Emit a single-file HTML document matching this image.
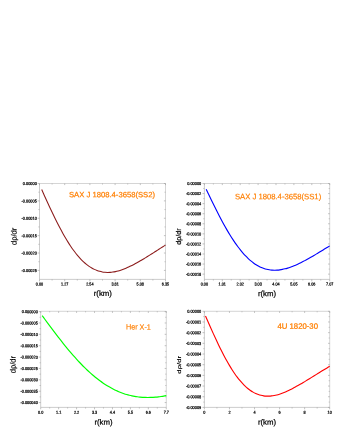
<!DOCTYPE html>
<html><head><meta charset="utf-8"><title>plot</title>
<style>
html,body{margin:0;padding:0;background:#fff;}
body{width:340px;height:440px;overflow:hidden;font-family:"Liberation Sans",sans-serif;}
svg{display:block;opacity:0.999;will-change:transform;}
svg text{font-family:"Liberation Sans",sans-serif;text-rendering:geometricPrecision;}
</style></head><body>
<svg width="340" height="440" viewBox="0 0 340 440">
<rect x="0" y="0" width="340" height="440" fill="#ffffff"/>
<g>
<path d="M39.5,183.5H165.5V279.4" fill="none" stroke="#b2b2b2" stroke-width="0.55"/>
<path d="M39.5,183.5V279.4H165.5" fill="none" stroke="#a4a4a4" stroke-width="0.55"/>
<path d="M39.50,279.4v1.9M39.50,183.5v1.6M52.10,279.4v1.1M52.10,183.5v1.0M64.70,279.4v1.9M64.70,183.5v1.6M77.30,279.4v1.1M77.30,183.5v1.0M89.90,279.4v1.9M89.90,183.5v1.6M102.50,279.4v1.1M102.50,183.5v1.0M115.10,279.4v1.9M115.10,183.5v1.6M127.70,279.4v1.1M127.70,183.5v1.0M140.30,279.4v1.9M140.30,183.5v1.6M152.90,279.4v1.1M152.90,183.5v1.0M165.50,279.4v1.9M165.50,183.5v1.6M39.5,183.50h-1.9M165.5,183.50h-1.6M39.5,192.19h-1.1M165.5,192.19h-1.0M39.5,200.88h-1.9M165.5,200.88h-1.6M39.5,209.57h-1.1M165.5,209.57h-1.0M39.5,218.26h-1.9M165.5,218.26h-1.6M39.5,226.95h-1.1M165.5,226.95h-1.0M39.5,235.64h-1.9M165.5,235.64h-1.6M39.5,244.33h-1.1M165.5,244.33h-1.0M39.5,253.02h-1.9M165.5,253.02h-1.6M39.5,261.71h-1.1M165.5,261.71h-1.0M39.5,270.40h-1.9M165.5,270.40h-1.6" stroke="#999" stroke-width="0.6" fill="none"/>
<text transform="matrix(0.88 0.002 0 1 39.50 285.40)" font-size="4.3" text-anchor="middle" fill="#000" stroke="#000" stroke-width="0.24">0.00</text>
<text transform="matrix(0.88 0.002 0 1 64.70 285.40)" font-size="4.3" text-anchor="middle" fill="#000" stroke="#000" stroke-width="0.24">1.27</text>
<text transform="matrix(0.88 0.002 0 1 89.90 285.40)" font-size="4.3" text-anchor="middle" fill="#000" stroke="#000" stroke-width="0.24">2.54</text>
<text transform="matrix(0.88 0.002 0 1 115.10 285.40)" font-size="4.3" text-anchor="middle" fill="#000" stroke="#000" stroke-width="0.24">3.81</text>
<text transform="matrix(0.88 0.002 0 1 140.30 285.40)" font-size="4.3" text-anchor="middle" fill="#000" stroke="#000" stroke-width="0.24">5.08</text>
<text transform="matrix(0.88 0.002 0 1 165.50 285.40)" font-size="4.3" text-anchor="middle" fill="#000" stroke="#000" stroke-width="0.24">6.35</text>
<text transform="matrix(0.9 0.002 0 1 36.80 185.05)" font-size="4.3" text-anchor="end" fill="#000" stroke="#000" stroke-width="0.24">0.00000</text>
<text transform="matrix(0.9 0.002 0 1 36.80 202.43)" font-size="4.3" text-anchor="end" fill="#000" stroke="#000" stroke-width="0.24">-0.00005</text>
<text transform="matrix(0.9 0.002 0 1 36.80 219.81)" font-size="4.3" text-anchor="end" fill="#000" stroke="#000" stroke-width="0.24">-0.00010</text>
<text transform="matrix(0.9 0.002 0 1 36.80 237.19)" font-size="4.3" text-anchor="end" fill="#000" stroke="#000" stroke-width="0.24">-0.00015</text>
<text transform="matrix(0.9 0.002 0 1 36.80 254.57)" font-size="4.3" text-anchor="end" fill="#000" stroke="#000" stroke-width="0.24">-0.00020</text>
<text transform="matrix(0.9 0.002 0 1 36.80 271.95)" font-size="4.3" text-anchor="end" fill="#000" stroke="#000" stroke-width="0.24">-0.00025</text>
<text transform="matrix(1 0.002 0 1 69.0 197.2)" font-size="7.7" fill="#ff7f00" stroke="#ff7f00" stroke-width="0.22" textLength="86.0" lengthAdjust="spacingAndGlyphs">SAX J 1808.4-3658(SS2)</text>
<text transform="matrix(1 0.002 0 1 102.8 295.9)" font-size="7.8" text-anchor="middle" fill="#000" stroke="#000" stroke-width="0.22">r(km)</text>
<text transform="translate(16.6,236.4) rotate(-90.1) scale(1,1.0)" font-size="7.6" text-anchor="middle" fill="#000" stroke="#000" stroke-width="0.2" textLength="17.2" lengthAdjust="spacingAndGlyphs">dρ/dr</text>
<path d="M41.70,189.57C42.14,190.55 43.46,193.49 44.33,195.44C45.21,197.38 46.09,199.32 46.97,201.24C47.85,203.16 48.72,205.07 49.60,206.96C50.48,208.84 51.36,210.71 52.24,212.55C53.11,214.39 53.99,216.21 54.87,218.00C55.75,219.79 56.63,221.55 57.50,223.27C58.38,224.99 59.26,226.69 60.14,228.34C61.02,229.99 61.89,231.61 62.77,233.18C63.65,234.76 64.53,236.29 65.41,237.78C66.28,239.28 67.16,240.72 68.04,242.13C68.92,243.53 69.80,244.88 70.67,246.19C71.55,247.50 72.43,248.76 73.31,249.97C74.19,251.18 75.06,252.34 75.94,253.46C76.82,254.57 77.70,255.63 78.58,256.64C79.45,257.65 80.33,258.61 81.21,259.52C82.09,260.43 82.97,261.28 83.84,262.09C84.72,262.90 85.60,263.65 86.48,264.36C87.36,265.07 88.23,265.72 89.11,266.33C89.99,266.94 90.87,267.49 91.75,268.01C92.62,268.52 93.50,268.98 94.38,269.40C95.26,269.81 96.14,270.18 97.01,270.51C97.89,270.84 98.77,271.12 99.65,271.36C100.53,271.60 101.40,271.80 102.28,271.96C103.16,272.12 104.04,272.23 104.92,272.31C105.80,272.39 106.67,272.43 107.55,272.44C108.43,272.45 109.31,272.42 110.19,272.36C111.06,272.30 111.94,272.20 112.82,272.08C113.70,271.96 114.58,271.80 115.45,271.62C116.33,271.43 117.21,271.22 118.09,270.98C118.97,270.75 119.84,270.48 120.72,270.20C121.60,269.91 122.48,269.60 123.36,269.27C124.23,268.94 125.11,268.59 125.99,268.22C126.87,267.85 127.75,267.46 128.62,267.06C129.50,266.65 130.38,266.23 131.26,265.79C132.14,265.36 133.01,264.91 133.89,264.45C134.77,263.98 135.65,263.51 136.53,263.02C137.40,262.54 138.28,262.04 139.16,261.53C140.04,261.03 140.92,260.51 141.79,259.99C142.67,259.47 143.55,258.94 144.43,258.41C145.31,257.87 146.18,257.33 147.06,256.79C147.94,256.24 148.82,255.69 149.70,255.14C150.57,254.59 151.45,254.03 152.33,253.47C153.21,252.92 154.09,252.36 154.96,251.80C155.84,251.24 156.72,250.67 157.60,250.11C158.48,249.55 159.35,248.99 160.23,248.43C161.11,247.87 161.99,247.31 162.87,246.76C163.74,246.20 165.06,245.37 165.50,245.09" fill="none" stroke="#8b1a1a" stroke-width="1.05" stroke-linecap="butt" stroke-linejoin="round"/>
</g>
<g>
<path d="M204.4,183.5H329.7V279.4" fill="none" stroke="#b2b2b2" stroke-width="0.55"/>
<path d="M204.4,183.5V279.4H329.7" fill="none" stroke="#a4a4a4" stroke-width="0.55"/>
<path d="M204.40,279.4v1.9M204.40,183.5v1.6M213.35,279.4v1.1M213.35,183.5v1.0M222.30,279.4v1.9M222.30,183.5v1.6M231.25,279.4v1.1M231.25,183.5v1.0M240.20,279.4v1.9M240.20,183.5v1.6M249.15,279.4v1.1M249.15,183.5v1.0M258.10,279.4v1.9M258.10,183.5v1.6M267.05,279.4v1.1M267.05,183.5v1.0M276.00,279.4v1.9M276.00,183.5v1.6M284.95,279.4v1.1M284.95,183.5v1.0M293.90,279.4v1.9M293.90,183.5v1.6M302.85,279.4v1.1M302.85,183.5v1.0M311.80,279.4v1.9M311.80,183.5v1.6M320.75,279.4v1.1M320.75,183.5v1.0M329.70,279.4v1.9M329.70,183.5v1.6M204.4,183.50h-1.9M329.7,183.50h-1.6M204.4,188.53h-1.1M329.7,188.53h-1.0M204.4,193.57h-1.9M329.7,193.57h-1.6M204.4,198.60h-1.1M329.7,198.60h-1.0M204.4,203.64h-1.9M329.7,203.64h-1.6M204.4,208.67h-1.1M329.7,208.67h-1.0M204.4,213.71h-1.9M329.7,213.71h-1.6M204.4,218.75h-1.1M329.7,218.75h-1.0M204.4,223.78h-1.9M329.7,223.78h-1.6M204.4,228.81h-1.1M329.7,228.81h-1.0M204.4,233.85h-1.9M329.7,233.85h-1.6M204.4,238.88h-1.1M329.7,238.88h-1.0M204.4,243.92h-1.9M329.7,243.92h-1.6M204.4,248.96h-1.1M329.7,248.96h-1.0M204.4,253.99h-1.9M329.7,253.99h-1.6M204.4,259.02h-1.1M329.7,259.02h-1.0M204.4,264.06h-1.9M329.7,264.06h-1.6M204.4,269.10h-1.1M329.7,269.10h-1.0M204.4,274.13h-1.9M329.7,274.13h-1.6" stroke="#999" stroke-width="0.6" fill="none"/>
<text transform="matrix(0.88 0.002 0 1 204.40 285.40)" font-size="4.3" text-anchor="middle" fill="#000" stroke="#000" stroke-width="0.24">0.00</text>
<text transform="matrix(0.88 0.002 0 1 222.30 285.40)" font-size="4.3" text-anchor="middle" fill="#000" stroke="#000" stroke-width="0.24">1.01</text>
<text transform="matrix(0.88 0.002 0 1 240.20 285.40)" font-size="4.3" text-anchor="middle" fill="#000" stroke="#000" stroke-width="0.24">2.02</text>
<text transform="matrix(0.88 0.002 0 1 258.10 285.40)" font-size="4.3" text-anchor="middle" fill="#000" stroke="#000" stroke-width="0.24">3.03</text>
<text transform="matrix(0.88 0.002 0 1 276.00 285.40)" font-size="4.3" text-anchor="middle" fill="#000" stroke="#000" stroke-width="0.24">4.04</text>
<text transform="matrix(0.88 0.002 0 1 293.90 285.40)" font-size="4.3" text-anchor="middle" fill="#000" stroke="#000" stroke-width="0.24">5.05</text>
<text transform="matrix(0.88 0.002 0 1 311.80 285.40)" font-size="4.3" text-anchor="middle" fill="#000" stroke="#000" stroke-width="0.24">6.06</text>
<text transform="matrix(0.88 0.002 0 1 329.70 285.40)" font-size="4.3" text-anchor="middle" fill="#000" stroke="#000" stroke-width="0.24">7.07</text>
<text transform="matrix(0.9 0.002 0 1 201.20 185.05)" font-size="4.3" text-anchor="end" fill="#000" stroke="#000" stroke-width="0.24">0.00000</text>
<text transform="matrix(0.9 0.002 0 1 201.20 195.12)" font-size="4.3" text-anchor="end" fill="#000" stroke="#000" stroke-width="0.24">-0.00002</text>
<text transform="matrix(0.9 0.002 0 1 201.20 205.19)" font-size="4.3" text-anchor="end" fill="#000" stroke="#000" stroke-width="0.24">-0.00004</text>
<text transform="matrix(0.9 0.002 0 1 201.20 215.26)" font-size="4.3" text-anchor="end" fill="#000" stroke="#000" stroke-width="0.24">-0.00006</text>
<text transform="matrix(0.9 0.002 0 1 201.20 225.33)" font-size="4.3" text-anchor="end" fill="#000" stroke="#000" stroke-width="0.24">-0.00008</text>
<text transform="matrix(0.9 0.002 0 1 201.20 235.40)" font-size="4.3" text-anchor="end" fill="#000" stroke="#000" stroke-width="0.24">-0.00010</text>
<text transform="matrix(0.9 0.002 0 1 201.20 245.47)" font-size="4.3" text-anchor="end" fill="#000" stroke="#000" stroke-width="0.24">-0.00012</text>
<text transform="matrix(0.9 0.002 0 1 201.20 255.54)" font-size="4.3" text-anchor="end" fill="#000" stroke="#000" stroke-width="0.24">-0.00014</text>
<text transform="matrix(0.9 0.002 0 1 201.20 265.61)" font-size="4.3" text-anchor="end" fill="#000" stroke="#000" stroke-width="0.24">-0.00016</text>
<text transform="matrix(0.9 0.002 0 1 201.20 275.68)" font-size="4.3" text-anchor="end" fill="#000" stroke="#000" stroke-width="0.24">-0.00018</text>
<text transform="matrix(1 0.002 0 1 234.9 199.2)" font-size="7.9" fill="#ff7f00" stroke="#ff7f00" stroke-width="0.18" textLength="86.3" lengthAdjust="spacingAndGlyphs">SAX J 1808.4-3658(SS1)</text>
<text transform="matrix(1 0.002 0 1 267.0 296.2)" font-size="7.8" text-anchor="middle" fill="#000" stroke="#000" stroke-width="0.22">r(km)</text>
<text transform="translate(181.0,236.5) rotate(-90.1) scale(1,0.92)" font-size="7.6" text-anchor="middle" fill="#000" stroke="#000" stroke-width="0.2" textLength="16.3" lengthAdjust="spacingAndGlyphs">dρ/dr</text>
<path d="M206.20,189.32C206.64,190.24 207.95,192.98 208.83,194.80C209.70,196.62 210.58,198.43 211.46,200.23C212.33,202.03 213.21,203.82 214.08,205.59C214.96,207.35 215.83,209.11 216.71,210.84C217.59,212.57 218.46,214.28 219.34,215.97C220.21,217.65 221.09,219.31 221.97,220.94C222.84,222.57 223.72,224.18 224.59,225.75C225.47,227.32 226.35,228.86 227.22,230.36C228.10,231.86 228.97,233.33 229.85,234.76C230.72,236.19 231.60,237.58 232.48,238.93C233.35,240.28 234.23,241.60 235.10,242.86C235.98,244.13 236.86,245.36 237.73,246.54C238.61,247.72 239.48,248.86 240.36,249.96C241.24,251.05 242.11,252.10 242.99,253.10C243.86,254.11 244.74,255.07 245.61,255.98C246.49,256.89 247.37,257.76 248.24,258.58C249.12,259.40 249.99,260.17 250.87,260.90C251.75,261.63 252.62,262.31 253.50,262.95C254.37,263.58 255.25,264.17 256.13,264.72C257.00,265.27 257.88,265.77 258.75,266.23C259.63,266.70 260.50,267.11 261.38,267.49C262.26,267.86 263.13,268.20 264.01,268.49C264.88,268.79 265.76,269.04 266.64,269.26C267.51,269.47 268.39,269.65 269.26,269.79C270.14,269.93 271.02,270.03 271.89,270.11C272.77,270.18 273.64,270.21 274.52,270.21C275.40,270.22 276.27,270.19 277.15,270.13C278.02,270.07 278.90,269.98 279.77,269.86C280.65,269.74 281.53,269.60 282.40,269.42C283.28,269.25 284.15,269.05 285.03,268.83C285.91,268.61 286.78,268.36 287.66,268.10C288.53,267.83 289.41,267.54 290.29,267.23C291.16,266.92 292.04,266.59 292.91,266.25C293.79,265.90 294.66,265.53 295.54,265.15C296.42,264.78 297.29,264.38 298.17,263.97C299.04,263.56 299.92,263.14 300.80,262.70C301.67,262.27 302.55,261.82 303.42,261.36C304.30,260.90 305.18,260.43 306.05,259.96C306.93,259.48 307.80,258.99 308.68,258.50C309.55,258.01 310.43,257.50 311.31,257.00C312.18,256.49 313.06,255.98 313.93,255.46C314.81,254.94 315.69,254.42 316.56,253.89C317.44,253.37 318.31,252.84 319.19,252.31C320.07,251.78 320.94,251.24 321.82,250.71C322.69,250.17 323.57,249.64 324.44,249.10C325.32,248.56 326.20,248.02 327.07,247.49C327.95,246.95 329.26,246.15 329.70,245.88" fill="none" stroke="#0000ff" stroke-width="1.12" stroke-linecap="butt" stroke-linejoin="round"/>
</g>
<g>
<path d="M40.7,311.3H166.3V407.4" fill="none" stroke="#b2b2b2" stroke-width="0.55"/>
<path d="M40.7,311.3V407.4H166.3" fill="none" stroke="#a4a4a4" stroke-width="0.55"/>
<path d="M40.70,407.4v1.9M40.70,311.3v1.6M49.67,407.4v1.1M49.67,311.3v1.0M58.64,407.4v1.9M58.64,311.3v1.6M67.61,407.4v1.1M67.61,311.3v1.0M76.58,407.4v1.9M76.58,311.3v1.6M85.55,407.4v1.1M85.55,311.3v1.0M94.52,407.4v1.9M94.52,311.3v1.6M103.49,407.4v1.1M103.49,311.3v1.0M112.46,407.4v1.9M112.46,311.3v1.6M121.43,407.4v1.1M121.43,311.3v1.0M130.40,407.4v1.9M130.40,311.3v1.6M139.37,407.4v1.1M139.37,311.3v1.0M148.34,407.4v1.9M148.34,311.3v1.6M157.31,407.4v1.1M157.31,311.3v1.0M166.28,407.4v1.9M166.28,311.3v1.6M40.7,311.60h-1.9M166.3,311.60h-1.6M40.7,317.29h-1.1M166.3,317.29h-1.0M40.7,322.97h-1.9M166.3,322.97h-1.6M40.7,328.66h-1.1M166.3,328.66h-1.0M40.7,334.34h-1.9M166.3,334.34h-1.6M40.7,340.03h-1.1M166.3,340.03h-1.0M40.7,345.71h-1.9M166.3,345.71h-1.6M40.7,351.40h-1.1M166.3,351.40h-1.0M40.7,357.08h-1.9M166.3,357.08h-1.6M40.7,362.77h-1.1M166.3,362.77h-1.0M40.7,368.45h-1.9M166.3,368.45h-1.6M40.7,374.14h-1.1M166.3,374.14h-1.0M40.7,379.82h-1.9M166.3,379.82h-1.6M40.7,385.51h-1.1M166.3,385.51h-1.0M40.7,391.19h-1.9M166.3,391.19h-1.6M40.7,396.88h-1.1M166.3,396.88h-1.0M40.7,402.56h-1.9M166.3,402.56h-1.6" stroke="#999" stroke-width="0.6" fill="none"/>
<text transform="matrix(0.88 0.002 0 1 40.70 413.70)" font-size="4.3" text-anchor="middle" fill="#000" stroke="#000" stroke-width="0.24">0.0</text>
<text transform="matrix(0.88 0.002 0 1 58.64 413.70)" font-size="4.3" text-anchor="middle" fill="#000" stroke="#000" stroke-width="0.24">1.1</text>
<text transform="matrix(0.88 0.002 0 1 76.58 413.70)" font-size="4.3" text-anchor="middle" fill="#000" stroke="#000" stroke-width="0.24">2.2</text>
<text transform="matrix(0.88 0.002 0 1 94.52 413.70)" font-size="4.3" text-anchor="middle" fill="#000" stroke="#000" stroke-width="0.24">3.3</text>
<text transform="matrix(0.88 0.002 0 1 112.46 413.70)" font-size="4.3" text-anchor="middle" fill="#000" stroke="#000" stroke-width="0.24">4.4</text>
<text transform="matrix(0.88 0.002 0 1 130.40 413.70)" font-size="4.3" text-anchor="middle" fill="#000" stroke="#000" stroke-width="0.24">5.5</text>
<text transform="matrix(0.88 0.002 0 1 148.34 413.70)" font-size="4.3" text-anchor="middle" fill="#000" stroke="#000" stroke-width="0.24">6.6</text>
<text transform="matrix(0.88 0.002 0 1 166.28 413.70)" font-size="4.3" text-anchor="middle" fill="#000" stroke="#000" stroke-width="0.24">7.7</text>
<text transform="matrix(0.9 0.002 0 1 37.80 313.15)" font-size="4.3" text-anchor="end" fill="#000" stroke="#000" stroke-width="0.24">0.000000</text>
<text transform="matrix(0.9 0.002 0 1 37.80 324.52)" font-size="4.3" text-anchor="end" fill="#000" stroke="#000" stroke-width="0.24">-0.000005</text>
<text transform="matrix(0.9 0.002 0 1 37.80 335.89)" font-size="4.3" text-anchor="end" fill="#000" stroke="#000" stroke-width="0.24">-0.000010</text>
<text transform="matrix(0.9 0.002 0 1 37.80 347.26)" font-size="4.3" text-anchor="end" fill="#000" stroke="#000" stroke-width="0.24">-0.000015</text>
<text transform="matrix(0.9 0.002 0 1 37.80 358.63)" font-size="4.3" text-anchor="end" fill="#000" stroke="#000" stroke-width="0.24">-0.000020</text>
<text transform="matrix(0.9 0.002 0 1 37.80 370.00)" font-size="4.3" text-anchor="end" fill="#000" stroke="#000" stroke-width="0.24">-0.000025</text>
<text transform="matrix(0.9 0.002 0 1 37.80 381.37)" font-size="4.3" text-anchor="end" fill="#000" stroke="#000" stroke-width="0.24">-0.000030</text>
<text transform="matrix(0.9 0.002 0 1 37.80 392.74)" font-size="4.3" text-anchor="end" fill="#000" stroke="#000" stroke-width="0.24">-0.000035</text>
<text transform="matrix(0.9 0.002 0 1 37.80 404.11)" font-size="4.3" text-anchor="end" fill="#000" stroke="#000" stroke-width="0.24">-0.000040</text>
<text transform="matrix(1 0.002 0 1 125.9 329.6)" font-size="7.8" fill="#ff7f00" stroke="#ff7f00" stroke-width="0.15" textLength="25.0" lengthAdjust="spacingAndGlyphs">Her X-1</text>
<text transform="matrix(1 0.002 0 1 103.5 424.7)" font-size="7.8" text-anchor="middle" fill="#000" stroke="#000" stroke-width="0.22">r(km)</text>
<text transform="translate(15.5,364.6) rotate(-90.1) scale(1,1.0)" font-size="7.6" text-anchor="middle" fill="#000" stroke="#000" stroke-width="0.2" textLength="17.2" lengthAdjust="spacingAndGlyphs">dρ/dr</text>
<path d="M42.20,315.68C42.64,316.28 43.96,318.07 44.84,319.26C45.72,320.45 46.60,321.64 47.48,322.83C48.36,324.02 49.24,325.20 50.12,326.38C51.00,327.56 51.88,328.73 52.76,329.90C53.64,331.07 54.52,332.23 55.40,333.38C56.28,334.54 57.16,335.68 58.04,336.82C58.92,337.96 59.80,339.09 60.68,340.21C61.56,341.33 62.44,342.45 63.32,343.55C64.20,344.65 65.08,345.74 65.96,346.81C66.84,347.89 67.72,348.96 68.60,350.01C69.48,351.07 70.36,352.11 71.24,353.13C72.12,354.16 73.00,355.18 73.89,356.17C74.77,357.17 75.65,358.16 76.53,359.13C77.41,360.09 78.29,361.05 79.17,361.98C80.05,362.92 80.93,363.84 81.81,364.75C82.69,365.65 83.57,366.54 84.45,367.41C85.33,368.27 86.21,369.13 87.09,369.96C87.97,370.79 88.85,371.61 89.73,372.41C90.61,373.20 91.49,373.98 92.37,374.74C93.25,375.50 94.13,376.24 95.01,376.97C95.89,377.69 96.77,378.39 97.65,379.07C98.53,379.76 99.41,380.42 100.29,381.06C101.17,381.71 102.05,382.33 102.93,382.94C103.81,383.54 104.69,384.13 105.57,384.69C106.45,385.26 107.33,385.80 108.21,386.33C109.09,386.85 109.97,387.36 110.85,387.84C111.73,388.33 112.61,388.80 113.49,389.24C114.37,389.69 115.25,390.12 116.13,390.53C117.01,390.93 117.89,391.32 118.77,391.69C119.65,392.06 120.53,392.41 121.41,392.74C122.29,393.08 123.17,393.39 124.05,393.68C124.93,393.98 125.81,394.25 126.69,394.51C127.57,394.77 128.45,395.01 129.33,395.23C130.21,395.45 131.09,395.66 131.97,395.85C132.85,396.03 133.73,396.20 134.61,396.36C135.50,396.51 136.38,396.65 137.26,396.77C138.14,396.89 139.02,397.00 139.90,397.09C140.78,397.18 141.66,397.25 142.54,397.31C143.42,397.37 144.30,397.41 145.18,397.44C146.06,397.47 146.94,397.48 147.82,397.48C148.70,397.48 149.58,397.47 150.46,397.44C151.34,397.42 152.22,397.38 153.10,397.32C153.98,397.27 154.86,397.21 155.74,397.13C156.62,397.05 157.50,396.96 158.38,396.86C159.26,396.76 160.14,396.65 161.02,396.53C161.90,396.40 162.78,396.27 163.66,396.12C164.54,395.98 165.86,395.74 166.30,395.66" fill="none" stroke="#00ff00" stroke-width="1.15" stroke-linecap="butt" stroke-linejoin="round"/>
</g>
<g>
<path d="M204.4,311.3H329.7V407.4" fill="none" stroke="#b2b2b2" stroke-width="0.55"/>
<path d="M204.4,311.3V407.4H329.7" fill="none" stroke="#a4a4a4" stroke-width="0.55"/>
<path d="M204.40,407.4v1.9M204.40,311.3v1.6M216.93,407.4v1.1M216.93,311.3v1.0M229.46,407.4v1.9M229.46,311.3v1.6M241.99,407.4v1.1M241.99,311.3v1.0M254.52,407.4v1.9M254.52,311.3v1.6M267.05,407.4v1.1M267.05,311.3v1.0M279.58,407.4v1.9M279.58,311.3v1.6M292.11,407.4v1.1M292.11,311.3v1.0M304.64,407.4v1.9M304.64,311.3v1.6M317.17,407.4v1.1M317.17,311.3v1.0M329.70,407.4v1.9M329.70,311.3v1.6M204.4,311.30h-1.9M329.7,311.30h-1.6M204.4,316.64h-1.1M329.7,316.64h-1.0M204.4,321.98h-1.9M329.7,321.98h-1.6M204.4,327.32h-1.1M329.7,327.32h-1.0M204.4,332.66h-1.9M329.7,332.66h-1.6M204.4,338.00h-1.1M329.7,338.00h-1.0M204.4,343.34h-1.9M329.7,343.34h-1.6M204.4,348.68h-1.1M329.7,348.68h-1.0M204.4,354.02h-1.9M329.7,354.02h-1.6M204.4,359.36h-1.1M329.7,359.36h-1.0M204.4,364.70h-1.9M329.7,364.70h-1.6M204.4,370.04h-1.1M329.7,370.04h-1.0M204.4,375.38h-1.9M329.7,375.38h-1.6M204.4,380.72h-1.1M329.7,380.72h-1.0M204.4,386.06h-1.9M329.7,386.06h-1.6M204.4,391.40h-1.1M329.7,391.40h-1.0M204.4,396.74h-1.9M329.7,396.74h-1.6M204.4,402.08h-1.1M329.7,402.08h-1.0M204.4,407.42h-1.9M329.7,407.42h-1.6" stroke="#999" stroke-width="0.6" fill="none"/>
<text transform="matrix(0.88 0.002 0 1 204.40 413.70)" font-size="4.3" text-anchor="middle" fill="#000" stroke="#000" stroke-width="0.24">0</text>
<text transform="matrix(0.88 0.002 0 1 229.46 413.70)" font-size="4.3" text-anchor="middle" fill="#000" stroke="#000" stroke-width="0.24">2</text>
<text transform="matrix(0.88 0.002 0 1 254.52 413.70)" font-size="4.3" text-anchor="middle" fill="#000" stroke="#000" stroke-width="0.24">4</text>
<text transform="matrix(0.88 0.002 0 1 279.58 413.70)" font-size="4.3" text-anchor="middle" fill="#000" stroke="#000" stroke-width="0.24">6</text>
<text transform="matrix(0.88 0.002 0 1 304.64 413.70)" font-size="4.3" text-anchor="middle" fill="#000" stroke="#000" stroke-width="0.24">8</text>
<text transform="matrix(0.88 0.002 0 1 329.70 413.70)" font-size="4.3" text-anchor="middle" fill="#000" stroke="#000" stroke-width="0.24">10</text>
<text transform="matrix(0.9 0.002 0 1 201.20 312.85)" font-size="4.3" text-anchor="end" fill="#000" stroke="#000" stroke-width="0.24">0.00000</text>
<text transform="matrix(0.9 0.002 0 1 201.20 323.53)" font-size="4.3" text-anchor="end" fill="#000" stroke="#000" stroke-width="0.24">-0.00001</text>
<text transform="matrix(0.9 0.002 0 1 201.20 334.21)" font-size="4.3" text-anchor="end" fill="#000" stroke="#000" stroke-width="0.24">-0.00002</text>
<text transform="matrix(0.9 0.002 0 1 201.20 344.89)" font-size="4.3" text-anchor="end" fill="#000" stroke="#000" stroke-width="0.24">-0.00003</text>
<text transform="matrix(0.9 0.002 0 1 201.20 355.57)" font-size="4.3" text-anchor="end" fill="#000" stroke="#000" stroke-width="0.24">-0.00004</text>
<text transform="matrix(0.9 0.002 0 1 201.20 366.25)" font-size="4.3" text-anchor="end" fill="#000" stroke="#000" stroke-width="0.24">-0.00005</text>
<text transform="matrix(0.9 0.002 0 1 201.20 376.93)" font-size="4.3" text-anchor="end" fill="#000" stroke="#000" stroke-width="0.24">-0.00006</text>
<text transform="matrix(0.9 0.002 0 1 201.20 387.61)" font-size="4.3" text-anchor="end" fill="#000" stroke="#000" stroke-width="0.24">-0.00007</text>
<text transform="matrix(0.9 0.002 0 1 201.20 398.29)" font-size="4.3" text-anchor="end" fill="#000" stroke="#000" stroke-width="0.24">-0.00008</text>
<text transform="matrix(0.9 0.002 0 1 201.20 408.97)" font-size="4.3" text-anchor="end" fill="#000" stroke="#000" stroke-width="0.24">-0.00009</text>
<text transform="matrix(1 0.002 0 1 277.4 328.8)" font-size="7.8" fill="#ff7f00" stroke="#ff7f00" stroke-width="0.25" textLength="40.6" lengthAdjust="spacingAndGlyphs">4U 1820-30</text>
<text transform="matrix(1 0.002 0 1 267.0 424.7)" font-size="7.8" text-anchor="middle" fill="#000" stroke="#000" stroke-width="0.22">r(km)</text>
<text transform="translate(181.0,364.8) rotate(-90.1) scale(1,0.72)" font-size="7.6" text-anchor="middle" fill="#000" stroke="#000" stroke-width="0.2" textLength="17.7" lengthAdjust="spacingAndGlyphs">dρ/dr</text>
<path d="M205.50,316.02C205.94,317.02 207.26,320.04 208.14,322.03C209.02,324.03 209.90,326.02 210.79,328.00C211.67,329.97 212.55,331.93 213.43,333.86C214.31,335.80 215.19,337.71 216.07,339.60C216.95,341.48 217.83,343.34 218.71,345.17C219.59,346.99 220.47,348.78 221.36,350.53C222.24,352.29 223.12,354.00 224.00,355.67C224.88,357.34 225.76,358.98 226.64,360.56C227.52,362.14 228.40,363.68 229.28,365.16C230.16,366.65 231.04,368.09 231.93,369.47C232.81,370.85 233.69,372.19 234.57,373.46C235.45,374.74 236.33,375.97 237.21,377.13C238.09,378.30 238.97,379.41 239.85,380.47C240.73,381.52 241.61,382.52 242.50,383.47C243.38,384.41 244.26,385.30 245.14,386.13C246.02,386.96 246.90,387.73 247.78,388.45C248.66,389.17 249.54,389.84 250.42,390.45C251.30,391.06 252.19,391.62 253.07,392.12C253.95,392.63 254.83,393.08 255.71,393.49C256.59,393.89 257.47,394.24 258.35,394.55C259.23,394.86 260.11,395.11 260.99,395.33C261.87,395.54 262.76,395.71 263.64,395.84C264.52,395.96 265.40,396.04 266.28,396.09C267.16,396.14 268.04,396.14 268.92,396.11C269.80,396.08 270.68,396.01 271.56,395.91C272.44,395.81 273.33,395.67 274.21,395.51C275.09,395.34 275.97,395.14 276.85,394.92C277.73,394.70 278.61,394.44 279.49,394.17C280.37,393.89 281.25,393.59 282.13,393.27C283.01,392.95 283.90,392.60 284.78,392.23C285.66,391.87 286.54,391.48 287.42,391.08C288.30,390.68 289.18,390.26 290.06,389.83C290.94,389.40 291.82,388.95 292.70,388.49C293.59,388.03 294.47,387.55 295.35,387.07C296.23,386.59 297.11,386.09 297.99,385.59C298.87,385.09 299.75,384.58 300.63,384.06C301.51,383.55 302.39,383.02 303.27,382.49C304.16,381.97 305.04,381.43 305.92,380.89C306.80,380.36 307.68,379.82 308.56,379.27C309.44,378.73 310.32,378.18 311.20,377.64C312.08,377.09 312.96,376.54 313.84,376.00C314.73,375.45 315.61,374.90 316.49,374.36C317.37,373.81 318.25,373.27 319.13,372.72C320.01,372.18 320.89,371.64 321.77,371.10C322.65,370.56 323.53,370.02 324.41,369.49C325.30,368.96 326.18,368.43 327.06,367.90C327.94,367.38 329.26,366.60 329.70,366.34" fill="none" stroke="#ff0000" stroke-width="1.12" stroke-linecap="butt" stroke-linejoin="round"/>
</g>
</svg>
</body></html>
